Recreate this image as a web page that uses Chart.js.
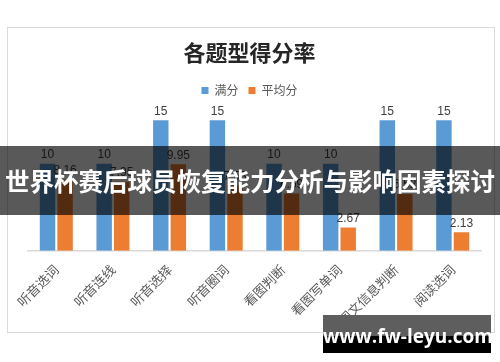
<!DOCTYPE html>
<html>
<head>
<meta charset="utf-8">
<script src="https://cdn.jsdelivr.net/npm/chart.js@4.4.1/dist/chart.umd.min.js"></script>
<style>
  html, body { margin: 0; padding: 0; background: #fff; }
  body { width: 500px; height: 362px; position: relative; overflow: hidden; }
  #box {
    position: absolute; left: 7px; top: 27px; width: 486px; height: 304px;
    border: 1px solid #d9d9d9; background: #fff;
  }
  #banner {
    position: absolute; left: 0; top: 146px; width: 500px; height: 69px;
    background: rgba(0, 0, 0, 0.65); color: #fff;
    font-family: "Noto Sans CJK SC", sans-serif; font-weight: bold;
    font-size: 24.5px; line-height: 69px; text-align: center; white-space: nowrap;
  }
  #mark {
    position: absolute; left: 323px; top: 315px; width: 168px; height: 38px;
    background: linear-gradient(#5e5e5e 0, #5e5e5e 55%, #000 55%, #000 100%);
    color: #fff; font-family: "Open Sans", "DejaVu Sans", sans-serif; font-weight: bold;
    font-size: 19px; line-height: 42px; text-align: center; white-space: nowrap;
  }
</style>
</head>
<body>
<div id="box"><canvas id="chart"></canvas></div>
<div id="banner">世界杯赛后球员恢复能力分析与影响因素探讨</div>
<div id="mark">www.fw-leyu.com</div>
<script>
// categories and series
const categories = ['听音选词', '听音连线', '听音选择', '听音圈词', '看图判断', '看图写单词', '图文信息判断', '阅读选词'];
const fullScore = [10, 10, 15, 15, 10, 10, 15, 15];
const avgScore = [8.16, 7.95, 9.95, 7.53, 6.59, 2.67, 6.52, 2.13];
const seriesNames = ['满分', '平均分'];

const colors = {
    blue: '#5B9BD5',
    orange: '#ED7D31',
    text: '#595959',
    label: '#404040',
    axis: '#d9d9d9'
};

// draws the value above each bar
const valueLabels = {
    id: 'valueLabels',
    afterDatasetsDraw(chart) {
        const ctx = chart.ctx;
        ctx.save();
        ctx.font = '12px "Liberation Sans", Arial, sans-serif';
        ctx.fillStyle = colors.label;
        ctx.textAlign = 'center';
        ctx.textBaseline = 'bottom';
        chart.data.datasets.forEach((ds, i) => {
            chart.getDatasetMeta(i).data.forEach((bar, j) => {
                ctx.fillText(String(ds.data[j]), bar.x, bar.y - 3);
            });
        });
        ctx.restore();
    }
};

new Chart(document.getElementById('chart'), {
    type: 'bar',
    data: {
        labels: categories,
        datasets: [
            { label: seriesNames[0], data: fullScore, backgroundColor: colors.blue },
            { label: seriesNames[1], data: avgScore, backgroundColor: colors.orange }
        ]
    },
    options: {
        responsive: true,
        maintainAspectRatio: false,
        animation: false,
        layout: { padding: { left: 10, right: 13, top: 8, bottom: 1 } },
        datasets: {
            bar: { categoryPercentage: 0.62, barPercentage: 0.88 }
        },
        plugins: {
            title: {
                display: true,
                text: '各题型得分率',
                color: '#262626',
                font: { family: '"Noto Sans CJK SC", sans-serif', size: 22, weight: 'bold' },
                padding: { top: 3, bottom: 9 }
            },
            legend: {
                display: true,
                position: 'top',
                labels: {
                    boxWidth: 7,
                    boxHeight: 7,
                    padding: 10,
                    color: colors.text,
                    font: { family: '"Noto Sans CJK SC", sans-serif', size: 12 }
                }
            },
            tooltip: { enabled: false }
        },
        scales: {
            x: {
                grid: { display: false },
                border: { color: colors.axis, width: 1.5 },
                ticks: {
                    color: colors.text,
                    minRotation: 45,
                    maxRotation: 45,
                    font: { family: '"Noto Sans CJK SC", sans-serif', size: 13 }
                }
            },
            y: {
                // invisible axis, only reserves space on the left of the bars
                min: 0,
                max: 16.6,
                grid: { display: false },
                border: { display: false },
                ticks: { display: false },
                afterFit(scale) { scale.width = 10; }
            }
        }
    },
    plugins: [valueLabels]
});
</script>
</body>
</html>
